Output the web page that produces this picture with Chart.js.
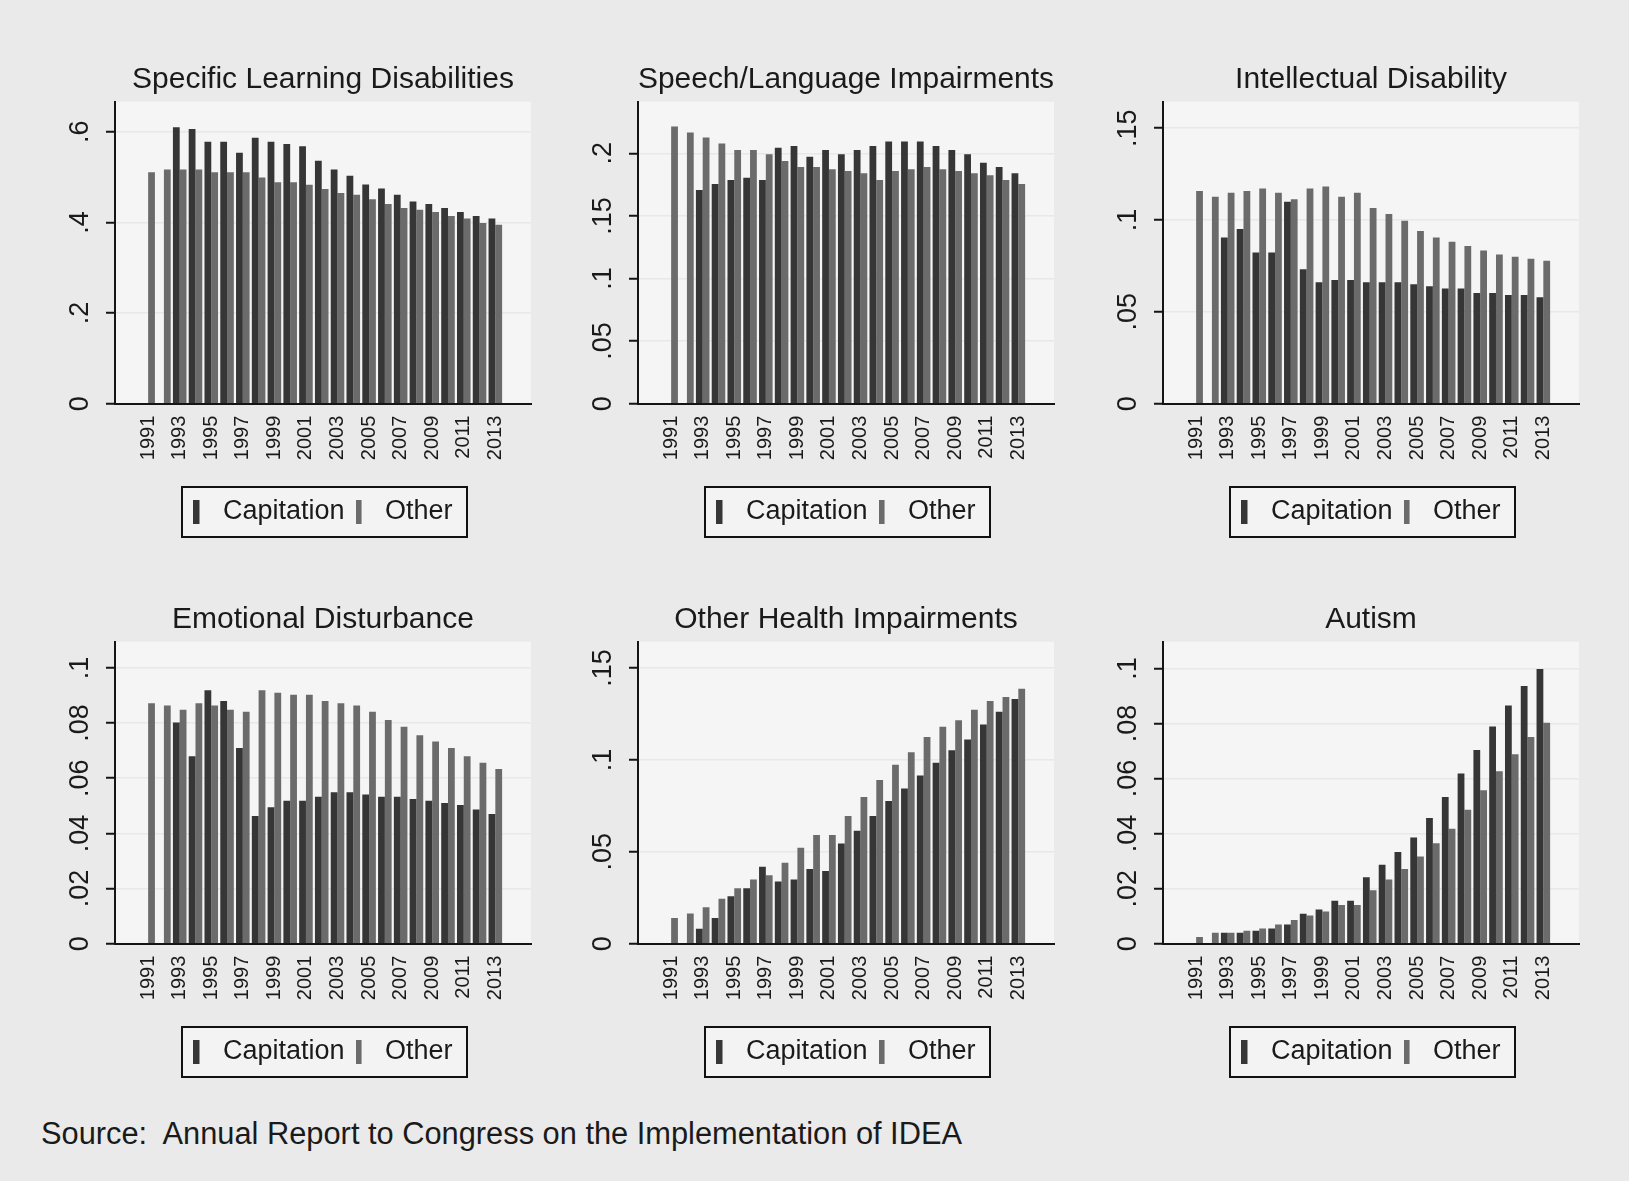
<!DOCTYPE html>
<html>
<head>
<meta charset="utf-8">
<script src="https://cdn.jsdelivr.net/npm/chart.js@4/dist/chart.umd.min.js"></script>
<style>
  html, body { margin: 0; padding: 0; background: #eaeaea; }
  body { width: 1629px; height: 1181px; position: relative; overflow: hidden; }
  canvas { position: absolute; }
  #source {
    position: absolute; left: 41px; top: 1119px;
    font: 30.8px 'Liberation Sans', Arial, sans-serif; line-height: 30px;
    color: #1a1a1a; white-space: pre;
  }
</style>
</head>
<body>
<div id="source">Source:  Annual Report to Congress on the Implementation of IDEA</div>
<script>
// School years shown on every panel, and the ones that carry a label
const years = [1991,1992,1993,1994,1995,1996,1997,1998,1999,2000,2001,2002,
               2003,2004,2005,2006,2007,2008,2009,2010,2011,2012,2013];
const yearTicks = [1991,1993,1995,1997,1999,2001,2003,2005,2007,2009,2011,2013];
const seriesNames = ['Capitation', 'Other'];

// Specific Learning Disabilities
const learningCap   = [null,null,0.610,0.606,0.578,0.578,0.554,0.587,0.578,0.573,0.568,0.536,
                       0.517,0.503,0.484,0.475,0.461,0.446,0.441,0.432,0.423,0.414,0.409];
const learningOther = [0.511,0.517,0.517,0.517,0.511,0.511,0.511,0.499,0.489,0.489,0.483,0.474,
                       0.465,0.461,0.451,0.441,0.432,0.428,0.423,0.414,0.409,0.399,0.395];
const learningTicks = [0, 0.2, 0.4, 0.6];

// Speech/Language Impairments
const speechCap   = [null,null,0.1706,0.1754,0.1786,0.1805,0.1786,0.2045,0.2059,0.1973,0.2027,0.1992,
                     0.2027,0.2059,0.2094,0.2094,0.2094,0.2059,0.2027,0.1992,0.1925,0.1890,0.1840];
const speechOther = [0.2214,0.2166,0.2126,0.2078,0.2027,0.2027,0.1992,0.1939,0.1890,0.1890,0.1872,0.1858,
                     0.1840,0.1786,0.1858,0.1872,0.1890,0.1872,0.1858,0.1840,0.1824,0.1786,0.1754];
const speechTicks = [0, 0.05, 0.1, 0.15, 0.2];

// Intellectual Disability
const intellectCap   = [null,null,0.0905,0.0951,0.0823,0.0823,0.1100,0.0732,0.0661,0.0674,0.0674,0.0661,
                        0.0661,0.0661,0.0650,0.0639,0.0627,0.0627,0.0603,0.0603,0.0592,0.0592,0.0579];
const intellectOther = [0.1158,0.1126,0.1148,0.1158,0.1171,0.1148,0.1113,0.1171,0.1182,0.1126,0.1148,0.1066,
                        0.1033,0.0996,0.0940,0.0905,0.0882,0.0858,0.0834,0.0812,0.0800,0.0789,0.0778];
const intellectTicks = [0, 0.05, 0.1, 0.15];

// Emotional Disturbance
const emotionalCap   = [null,null,0.0802,0.0680,0.0919,0.0880,0.0710,0.0463,0.0495,0.0518,0.0518,0.0533,
                        0.0549,0.0549,0.0541,0.0533,0.0533,0.0525,0.0518,0.0510,0.0503,0.0487,0.0470];
const emotionalOther = [0.0872,0.0864,0.0848,0.0872,0.0864,0.0848,0.0841,0.0919,0.0910,0.0903,0.0903,0.0880,
                        0.0872,0.0864,0.0841,0.0811,0.0787,0.0756,0.0733,0.0710,0.0680,0.0656,0.0633];
const emotionalTicks = [0, 0.02, 0.04, 0.06, 0.08, 0.1];

// Other Health Impairments
const healthCap   = [null,null,0.0082,0.0140,0.0258,0.0302,0.0418,0.0338,0.0349,0.0407,0.0396,0.0545,
                     0.0615,0.0695,0.0776,0.0845,0.0915,0.0984,0.1053,0.1111,0.1193,0.1262,0.1331];
const healthOther = [0.0140,0.0164,0.0198,0.0245,0.0302,0.0349,0.0373,0.0440,0.0522,0.0591,0.0591,0.0695,
                     0.0798,0.0891,0.0973,0.1042,0.1124,0.1180,0.1216,0.1273,0.1320,0.1342,0.1387];
const healthTicks = [0, 0.05, 0.1, 0.15];

// Autism
const autismCap   = [null,null,0.0040,0.0040,0.0047,0.0055,0.0070,0.0109,0.0124,0.0156,0.0156,0.0241,
                     0.0287,0.0333,0.0386,0.0457,0.0533,0.0618,0.0704,0.0789,0.0865,0.0936,0.0998];
const autismOther = [0.0024,0.0040,0.0040,0.0047,0.0055,0.0070,0.0086,0.0102,0.0117,0.0141,0.0141,0.0194,
                     0.0233,0.0271,0.0317,0.0365,0.0418,0.0487,0.0557,0.0626,0.0688,0.0751,0.0803];
const autismTicks = [0, 0.02, 0.04, 0.06, 0.08, 0.1];

const FONT = "'Liberation Sans', Arial, sans-serif";
const CAP_COLOR = '#363636';
const OTHER_COLOR = '#6b6b6b';
Chart.defaults.font.family = FONT;
Chart.defaults.color = '#1a1a1a';

const panels = [
  { title: 'Specific Learning Disabilities', cap: learningCap,  other: learningOther,  ticks: learningTicks,  max: 0.6665, left: 40,   top: 40 },
  { title: 'Speech/Language Impairments',    cap: speechCap,    other: speechOther,    ticks: speechTicks,    max: 0.2412, left: 563,  top: 40 },
  { title: 'Intellectual Disability',        cap: intellectCap, other: intellectOther, ticks: intellectTicks, max: 0.1644, left: 1088, top: 40 },
  { title: 'Emotional Disturbance',          cap: emotionalCap, other: emotionalOther, ticks: emotionalTicks, max: 0.1095, left: 40,   top: 580 },
  { title: 'Other Health Impairments',       cap: healthCap,    other: healthOther,    ticks: healthTicks,    max: 0.1643, left: 563,  top: 580 },
  { title: 'Autism',                         cap: autismCap,    other: autismOther,    ticks: autismTicks,    max: 0.1097, left: 1088, top: 580 }
];

// Stata-style numbers: no leading zero
const fmt = v => (v === 0 ? '0' : String(v).replace(/^0\./, '.'));

// Thin upright bar used as the legend key
function makeKey(color) {
  const c = document.createElement('canvas');
  c.width = 16; c.height = 24;
  const g = c.getContext('2d');
  g.fillStyle = color;
  g.fillRect(0, 0, 6, 24);
  return c;
}
const keys = [makeKey(CAP_COLOR), makeKey(OTHER_COLOR)];

const measureCtx = document.createElement('canvas').getContext('2d');
const Y_FONT = 27;
measureCtx.font = Y_FONT + 'px ' + FONT;

// Plot region fill and the framed legend box
const panelBackdrop = {
  id: 'panelBackdrop',
  beforeDraw(chart) {
    const { ctx, chartArea: a, legend } = chart;
    ctx.save();
    ctx.fillStyle = '#f5f5f5';
    ctx.fillRect(a.left, a.top, a.right - a.left, a.bottom - a.top);
    const hb = legend && legend.legendHitBoxes;
    if (hb && hb.length) {
      const first = hb[0], last = hb[hb.length - 1];
      const x0 = Math.round(first.left - 11), x1 = Math.round(last.left + last.width + 14);
      const y0 = Math.round(first.top - 11.5), y1 = Math.round(first.top + first.height + 11.5);
      ctx.fillStyle = '#f3f3f3';
      ctx.fillRect(x0, y0, x1 - x0, y1 - y0);
      ctx.strokeStyle = '#111';
      ctx.lineWidth = 2;
      ctx.strokeRect(x0, y0, x1 - x0, y1 - y0);
    }
    ctx.restore();
  }
};

panels.forEach(p => {
  const canvas = document.createElement('canvas');
  canvas.width = 496; canvas.height = 498;
  canvas.style.left = p.left + 'px';
  canvas.style.top = p.top + 'px';
  document.body.appendChild(canvas);

  const widest = Math.max(...p.ticks.map(v => measureCtx.measureText(fmt(v)).width));
  const yPad = 34 - 9 - widest / 2;

  new Chart(canvas, {
    type: 'bar',
    data: {
      labels: years,
      datasets: [
        { label: seriesNames[0], data: p.cap,   backgroundColor: CAP_COLOR,   borderWidth: 0 },
        { label: seriesNames[1], data: p.other, backgroundColor: OTHER_COLOR, borderWidth: 0 }
      ]
    },
    options: {
      responsive: false,
      animation: false,
      events: [],
      layout: { padding: { left: 5, right: 5, top: 0, bottom: 3 } },
      datasets: { bar: { categoryPercentage: 0.86, barPercentage: 1.0 } },
      scales: {
        x: {
          type: 'linear',
          min: 1988.9, max: 2015.26,
          offset: false,
          afterBuildTicks: s => { s.ticks = yearTicks.map(v => ({ value: v })); },
          afterFit: s => { s.height = 83.3; },
          grid: { display: true, drawTicks: false, color: 'rgba(0,0,0,0)' },
          border: { display: true, color: '#151515', width: 2 },
          ticks: {
            minRotation: 90, maxRotation: 90, autoSkip: false, padding: 12,
            font: { size: 20 }, color: '#1a1a1a',
            callback: v => String(v)
          }
        },
        y: {
          min: 0, max: p.max,
          afterBuildTicks: s => { s.ticks = p.ticks.map(v => ({ value: v })); },
          afterFit: s => { s.width = 70; },
          grid: { color: '#e8e8e8', lineWidth: 1.5, drawTicks: true, tickLength: 9, tickColor: '#151515', tickWidth: 2 },
          border: { display: true, color: '#151515', width: 2 },
          ticks: {
            minRotation: 90, maxRotation: 90, crossAlign: 'center', padding: yPad,
            font: { size: Y_FONT }, color: '#1a1a1a',
            callback: v => fmt(v)
          }
        }
      },
      plugins: {
        title: {
          display: true, text: p.title, fullSize: false,
          font: { size: 30, weight: 'normal' }, color: '#1a1a1a',
          padding: { top: 22, bottom: 3.7 }
        },
        legend: {
          display: true, position: 'bottom', fullSize: false,
          labels: {
            usePointStyle: true, pointStyleWidth: 16, padding: 11,
            font: { size: 27 }, color: '#1a1a1a',
            generateLabels(chart) {
              const items = Chart.defaults.plugins.legend.labels.generateLabels(chart);
              items.forEach((it, i) => { it.pointStyle = keys[i]; it.fontColor = '#1a1a1a'; });
              return items;
            }
          }
        },
        tooltip: { enabled: false }
      }
    },
    plugins: [panelBackdrop]
  });
});
</script>
</body>
</html>
